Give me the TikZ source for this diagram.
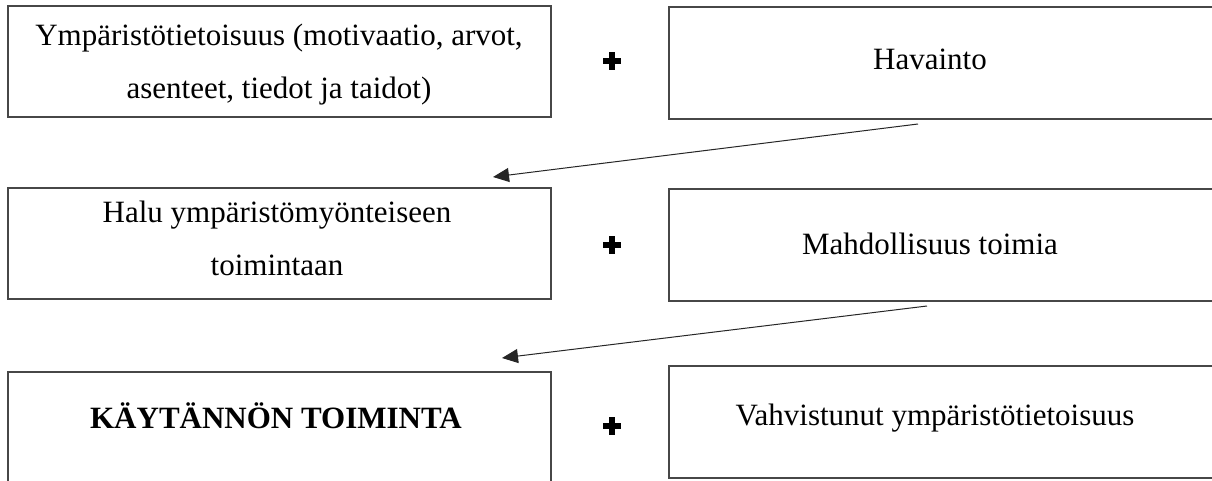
\documentclass[tikz,border=0pt]{standalone}
\usepackage{fontspec}
\setmainfont{Liberation Serif}
\usetikzlibrary{arrows.meta}
\begin{document}
\begin{tikzpicture}[x=1pt,y=-1pt,
  box/.style={draw=black!72, line width=1.3pt, inner sep=0pt},
  txt/.style={inner sep=0pt, align=center, font=\fontsize{31}{53}\selectfont},
  plussign/.style={minimum size=18pt, inner sep=0pt,
    path picture={\fill[black] ([xshift=-3pt]path picture bounding box.north) rectangle ([xshift=3pt]path picture bounding box.south);
                  \fill[black] ([yshift=-3pt]path picture bounding box.west) rectangle ([yshift=3pt]path picture bounding box.east);}},
  flow/.style={draw=black!85, line width=1pt, -{Triangle[length=16pt,width=14pt]}}]
\useasboundingbox (0,0) rectangle (1212,481);
% boxes
\node[box, minimum width=543pt, minimum height=111pt] (b1) at (279.5,61.5) {};
\node[box, minimum width=545pt, minimum height=112pt] (b2) at (941.5,63) {};
\node[box, minimum width=543pt, minimum height=111pt] (b3) at (279.5,243.5) {};
\node[box, minimum width=545pt, minimum height=112pt] (b4) at (941.5,245) {};
\node[box, minimum width=543pt, minimum height=114pt] (b5) at (279.5,429) {};
\node[box, minimum width=545pt, minimum height=112pt] (b6) at (941.5,422) {};
% texts
\node[txt] (t1) at (279,65) {Ympäristötietoisuus (motivaatio, arvot,\\asenteet, tiedot ja taidot)};
\node[txt, anchor=base] (t2) at (930,70) {Havainto};
\node[txt] (t3) at (277,238) {Halu ympäristömyönteiseen\\toimintaan};
\node[txt, anchor=base] (t4) at (930,254) {Mahdollisuus toimia};
\node[txt, anchor=base, font=\fontsize{31}{53}\selectfont\bfseries] (t5) at (276,428) {KÄYTÄNNÖN TOIMINTA};
\node[txt, anchor=base] (t6) at (935,425) {Vahvistunut ympäristötietoisuus};
% plus signs
\node[plussign] (p1) at (612,61) {};
\node[plussign] (p2) at (612,245) {};
\node[plussign] (p3) at (612,426) {};
% connectors
\coordinate (a1s) at (918,124);
\coordinate (a1e) at (493,177);
\coordinate (a2s) at (927,306);
\coordinate (a2e) at (502,358);
\draw[flow] (a1s) -- (a1e);
\draw[flow] (a2s) -- (a2e);
\end{tikzpicture}
\end{document}
